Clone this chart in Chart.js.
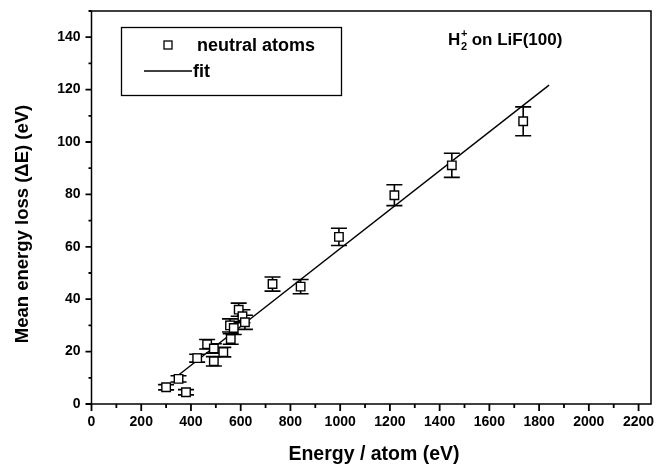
<!DOCTYPE html>
<html>
<head>
<meta charset="utf-8">
<script src="https://cdn.jsdelivr.net/npm/chart.js@4.4.1/dist/chart.umd.min.js"></script>
<style>
  html, body { margin: 0; padding: 0; background: #fff; }
  #wrap { width: 669px; height: 474px; position: relative; }
</style>
</head>
<body>
<div id="wrap"><canvas id="lossChart"></canvas></div>
<script>
// measured points: energy per atom (eV), mean energy loss (eV), error (eV)
const energy = [300, 350, 380, 425, 465, 492, 492, 530, 560, 557, 572, 592, 607, 617, 728, 841, 995, 1218, 1449, 1736];
const loss   = [6.4, 9.6, 4.5, 17.5, 22.8, 21.2, 16.3, 19.8, 24.8, 30.0, 29.0, 36.0, 33.5, 31.2, 45.8, 44.8, 63.8, 79.7, 91.1, 107.9];
const lossErr = [1.0, 1.2, 1.0, 1.5, 1.8, 1.8, 1.8, 1.8, 2.0, 2.5, 2.5, 2.5, 2.5, 2.7, 2.7, 2.7, 3.3, 4.0, 4.6, 5.5];

// linear fit end points
const fitEnergy = [340, 1840];
const fitLoss = [10.3, 121.7];

const xTicks = [0, 200, 400, 600, 800, 1000, 1200, 1400, 1600, 1800, 2000, 2200];
const yTicks = [0, 20, 40, 60, 80, 100, 120, 140];

const FONT = "'Liberation Sans', Arial, sans-serif";

// error bars drawn under the markers
const errorBars = {
    id: 'errorBars',
    beforeDatasetsDraw(chart) {
        const { ctx, scales: { x, y } } = chart;
        ctx.save();
        ctx.strokeStyle = '#000';
        ctx.lineWidth = 1.6;
        energy.forEach((e, i) => {
            const px = x.getPixelForValue(e);
            const top = y.getPixelForValue(loss[i] + lossErr[i]);
            const bot = y.getPixelForValue(loss[i] - lossErr[i]);
            ctx.beginPath();
            ctx.moveTo(px, top); ctx.lineTo(px, bot);
            ctx.moveTo(px - 8, top); ctx.lineTo(px + 8, top);
            ctx.moveTo(px - 8, bot); ctx.lineTo(px + 8, bot);
            ctx.stroke();
        });
        ctx.restore();
    }
};

// frame, tick marks, axis titles, legend box and the label
const decorations = {
    id: 'decorations',
    afterDraw(chart) {
        const { ctx, chartArea: a, scales: { x, y } } = chart;
        ctx.save();
        ctx.strokeStyle = '#000';
        ctx.lineWidth = 1.5;
        ctx.strokeRect(a.left, a.top, a.right - a.left, a.bottom - a.top);

        // x ticks, major every 200, minor every 100
        ctx.lineWidth = 1.8;
        ctx.beginPath();
        for (let v = 0; v <= 2200; v += 100) {
            const px = x.getPixelForValue(v);
            const len = v % 200 === 0 ? 7 : 4;
            ctx.moveTo(px, a.bottom); ctx.lineTo(px, a.bottom + len);
        }
        // y ticks, major every 20, minor every 10
        for (let v = 0; v <= 150; v += 10) {
            const py = y.getPixelForValue(v);
            const len = v % 20 === 0 ? 6 : 3;
            ctx.moveTo(a.left, py); ctx.lineTo(a.left - len, py);
        }
        ctx.stroke();

        // axis titles
        ctx.fillStyle = '#000';
        ctx.textAlign = 'center';
        ctx.textBaseline = 'middle';
        ctx.font = 'bold 19.5px ' + FONT;
        ctx.fillText('Energy / atom (eV)', 374, 455);
        ctx.save();
        ctx.translate(23, 224);
        ctx.rotate(-Math.PI / 2);
        ctx.font = 'bold 18.5px ' + FONT;
        ctx.fillText('Mean energy loss (\u0394E) (eV)', 0, 0);
        ctx.restore();

        // legend
        ctx.lineWidth = 1.3;
        ctx.strokeRect(121.5, 27.5, 220, 68);
        ctx.fillStyle = '#fff';
        ctx.fillRect(164, 41, 8, 8);
        ctx.strokeRect(164, 41, 8, 8);
        ctx.beginPath();
        ctx.moveTo(144, 71); ctx.lineTo(192, 71);
        ctx.stroke();
        ctx.fillStyle = '#000';
        ctx.font = 'bold 18px ' + FONT;
        ctx.textBaseline = 'middle';
        ctx.textAlign = 'left';
        ctx.fillText('neutral atoms', 197, 46);
        ctx.fillText('fit', 193, 72);

        // H2+ on LiF(100)
        ctx.textBaseline = 'alphabetic';
        ctx.font = 'bold 17px ' + FONT;
        ctx.fillText('H', 448, 45);
        ctx.font = 'bold 11px ' + FONT;
        ctx.fillText('2', 461, 50);
        ctx.fillText('+', 461, 37);
        ctx.font = 'bold 17px ' + FONT;
        ctx.fillText(' on LiF(100)', 467, 45);
        ctx.restore();
    }
};

new Chart(document.getElementById('lossChart'), {
    type: 'scatter',
    data: {
        datasets: [
            {
                label: 'neutral atoms',
                data: energy.map((e, i) => ({ x: e, y: loss[i] })),
                pointStyle: 'rect',
                pointRadius: 6,
                pointBackgroundColor: '#fff',
                pointBorderColor: '#000',
                pointBorderWidth: 1.4
            },
            {
                label: 'fit',
                data: fitEnergy.map((e, i) => ({ x: e, y: fitLoss[i] })),
                showLine: true,
                borderColor: '#000',
                borderWidth: 1.4,
                pointRadius: 0
            }
        ]
    },
    options: {
        responsive: true,
        maintainAspectRatio: false,
        animation: false,
        layout: { padding: { left: 0, right: 18, top: 11, bottom: 0 } },
        plugins: {
            legend: { display: false },
            tooltip: { enabled: false }
        },
        scales: {
            x: {
                type: 'linear',
                min: 0,
                max: 2250,
                afterFit(scale) {
                    scale.height = 70;
                    scale.paddingLeft = 0;
                    scale.paddingRight = 0;
                },
                afterBuildTicks(scale) { scale.ticks = xTicks.map(v => ({ value: v })); },
                grid: { display: false, drawTicks: false },
                border: { display: false },
                ticks: {
                    color: '#000',
                    padding: 10,
                    maxRotation: 0,
                    autoSkip: false,
                    font: { family: FONT, size: 14, weight: 'bold' },
                    callback: v => String(v)
                }
            },
            y: {
                type: 'linear',
                min: 0,
                max: 150,
                afterFit(scale) {
                    scale.width = 91.5;
                    scale.paddingTop = 0;
                    scale.paddingBottom = 0;
                },
                afterBuildTicks(scale) { scale.ticks = yTicks.map(v => ({ value: v })); },
                grid: { display: false, drawTicks: false },
                border: { display: false },
                ticks: {
                    color: '#000',
                    padding: 11,
                    autoSkip: false,
                    font: { family: FONT, size: 14, weight: 'bold' },
                    callback: v => String(v)
                }
            }
        }
    },
    plugins: [errorBars, decorations]
});
</script>
</body>
</html>
